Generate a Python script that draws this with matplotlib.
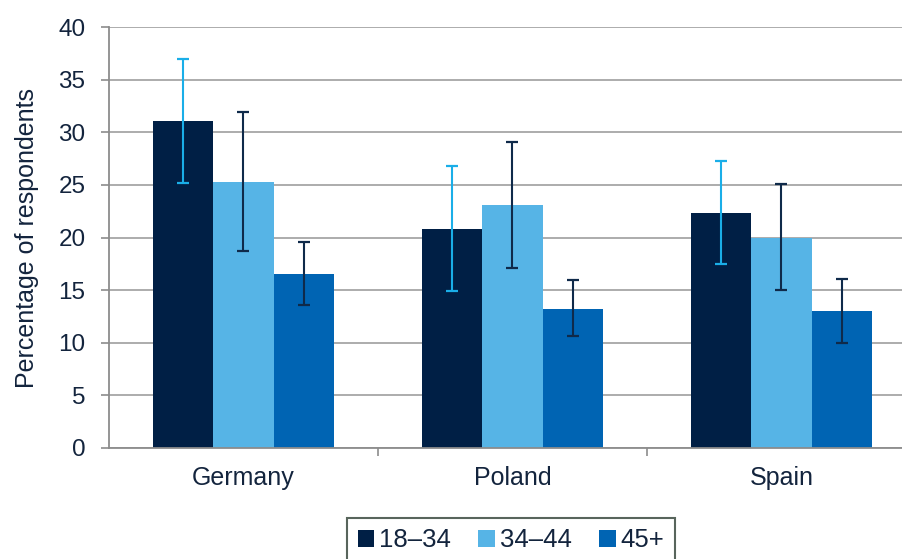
import matplotlib.pyplot as plt
import numpy as np

plt.rcParams['font.family'] = ['Liberation Sans', 'DejaVu Sans']

countries = ['Germany', 'Poland', 'Spain']
groups = ['18–34', '34–44', '45+']
vals_18_34 = [31.1, 20.8, 22.3]
vals_34_44 = [25.3, 23.1, 20.0]
vals_45 = [16.5, 13.2, 13.0]
lo_18_34 = [25.2, 14.9, 17.5]
hi_18_34 = [37.0, 26.8, 27.3]
lo_34_44 = [18.7, 17.1, 15.0]
hi_34_44 = [31.9, 29.1, 25.1]
lo_45 = [13.6, 10.6, 10.0]
hi_45 = [19.6, 16.0, 16.1]

colors = ['#001f45', '#56b4e6', '#0064b3']
err_colors = ['#1aaee8', '#0f2a4a', '#0f2a4a']
txt = '#13243d'

fig = plt.figure(figsize=(9.03, 5.59), dpi=100)
ax = fig.add_axes([109/903, 1-448/559, 794/903, (448-27)/559])

x = np.arange(1, 4)
w = 0.224
series = [(vals_18_34, lo_18_34, hi_18_34), (vals_34_44, lo_34_44, hi_34_44), (vals_45, lo_45, hi_45)]
for i, (v, lo, hi) in enumerate(series):
    v = np.array(v); lo = np.array(lo); hi = np.array(hi)
    pos = x + (i - 1) * w
    ax.bar(pos, v, w, color=colors[i], label=groups[i], zorder=2)
    ax.errorbar(pos, v, yerr=[v - lo, hi - v], fmt='none', ecolor=err_colors[i],
                elinewidth=1.5, capsize=4.5, capthick=1.6, zorder=3)

ax.set_yticks(range(0, 41, 5))
ax.set_xticks(x)
ax.set_xticklabels(countries)
ax.set_xticks([1.5, 2.5], minor=True)
ax.set_ylim(0, 40)
ax.set_xlim(0.5, 0.5 + 794/269)
ax.tick_params(axis='x', which='major', length=0, pad=13, labelsize=18, labelcolor=txt)
ax.tick_params(axis='x', which='minor', length=6, color='#8c8c8c', width=1.2)
ax.tick_params(axis='y', length=6, color='#8c8c8c', width=1.2, labelsize=17.5, labelcolor=txt, pad=11)
ax.grid(axis='y', color='#a6a6a6', linewidth=1.3, zorder=0)
ax.set_axisbelow(True)
for s in ['top', 'right']:
    ax.spines[s].set_visible(False)
for s in ['left', 'bottom']:
    ax.spines[s].set_color('#8c8c8c')
    ax.spines[s].set_linewidth(1.3)
ax.set_ylabel('Percentage of respondents', fontsize=18, color=txt)
ax.yaxis.set_label_coords(-70/794, 0.5)

leg = fig.legend(loc='upper center', bbox_to_anchor=(511/903, 1-518/559), ncol=3,
                 fontsize=18.5, frameon=True, fancybox=False, handlelength=0.65,
                 handleheight=0.65, handletextpad=0.2, columnspacing=1.05,
                 borderpad=0.4, borderaxespad=0)
leg.get_frame().set_edgecolor('#2e3e33')
leg.get_frame().set_linewidth(1.5)
for t in leg.get_texts():
    t.set_color(txt)

fig.savefig('out.png', dpi=100)
